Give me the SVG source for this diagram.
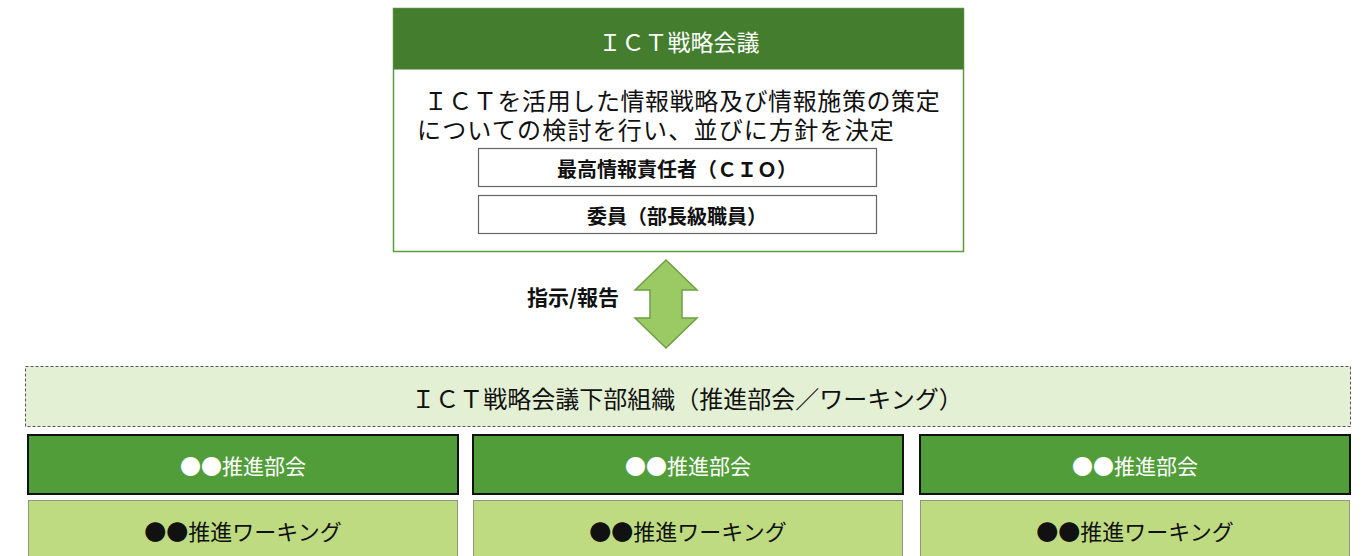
<svg xmlns="http://www.w3.org/2000/svg" width="1366" height="556" viewBox="0 0 1366 556">
<style>
text{font-family:"Noto Sans CJK JP","Noto Sans",sans-serif;text-anchor:middle;dominant-baseline:central}
.w{fill:#fff}
.k{fill:#111}
.b{font-weight:bold}
.sub{fill:#fff;stroke:#666;stroke-width:1.2}
.dept{fill:#519d39;stroke:#111;stroke-width:2}
.wg{fill:#bedb81;stroke:#8a9a80;stroke-width:1}
</style>
<rect width="1366" height="556" fill="#fff"/>
<g id="ict-council">
<rect x="393.5" y="8.5" width="570" height="243" fill="#fff" stroke="#5c9a40" stroke-width="1.5"/>
<rect x="393.5" y="8.5" width="570" height="61" fill="#437d2d"/>
<text x="679" y="41" class="w" font-size="23">ＩＣＴ戦略会議</text>
<text class="k" font-size="24"><tspan x="682" y="99" letter-spacing="0.6">ＩＣＴを活用した情報戦略及び情報施策の策定</tspan><tspan x="656" y="128" letter-spacing="1.2">についての検討を行い、並びに方針を決定</tspan></text>
</g>
<g id="cio">
<rect class="sub" x="478.5" y="148.5" width="398" height="38"/>
<text x="677" y="168" class="k b" font-size="20">最高情報責任者（ＣＩＯ）</text>
</g>
<g id="members">
<rect class="sub" x="478.5" y="195.5" width="398" height="38"/>
<text x="677" y="215" class="k b" font-size="20">委員（部長級職員）</text>
</g>
<g id="connectors">
<path d="M666,260 L697,290 L682,290 L682,318 L697,318 L666,348 L635,318 L650,318 L650,290 L635,290 Z" fill="#9bca65" stroke="#6f9e45" stroke-width="1.5"/>
<text x="573" y="296" class="k b" font-size="21">指示/報告</text>
</g>
<g id="sub-org">
<rect x="25.5" y="366.5" width="1325" height="60" fill="#e3f0d4" stroke="#555" stroke-width="1" stroke-dasharray="3,2"/>
<text x="687" y="397" class="k" font-size="24">ＩＣＴ戦略会議下部組織（推進部会／ワーキング）</text>
</g>
<g id="dept-1">
<rect class="dept" x="28" y="435" width="430" height="59"/>
<text x="243" y="465" class="w" font-size="21">●●推進部会</text>
</g>
<g id="wg-1">
<rect class="wg" x="28.5" y="500.5" width="429" height="60"/>
<text x="243" y="530" class="k" font-size="22">●●推進ワーキング</text>
</g>
<g id="dept-2">
<rect class="dept" x="473" y="435" width="430" height="59"/>
<text x="688" y="465" class="w" font-size="21">●●推進部会</text>
</g>
<g id="wg-2">
<rect class="wg" x="473.5" y="500.5" width="429" height="60"/>
<text x="688" y="530" class="k" font-size="22">●●推進ワーキング</text>
</g>
<g id="dept-3">
<rect class="dept" x="920" y="435" width="430" height="59"/>
<text x="1135" y="465" class="w" font-size="21">●●推進部会</text>
</g>
<g id="wg-3">
<rect class="wg" x="920.5" y="500.5" width="429" height="60"/>
<text x="1135" y="530" class="k" font-size="22">●●推進ワーキング</text>
</g>
</svg>
